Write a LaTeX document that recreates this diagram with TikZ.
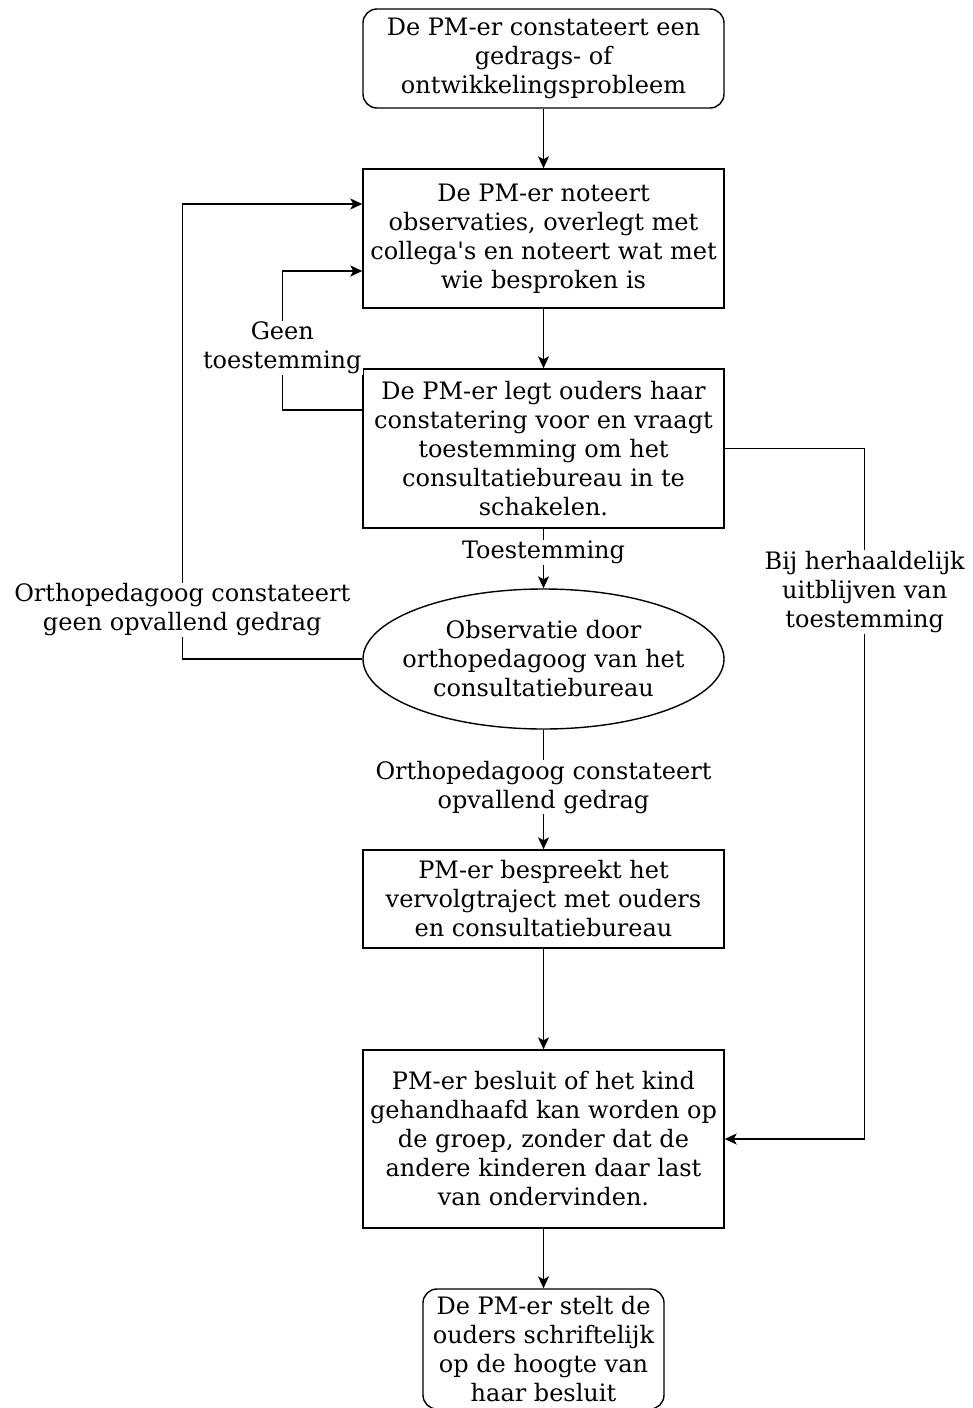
\documentclass[tikz,border=0pt]{standalone}
\usepackage{fontspec}
\setmainfont{DejaVu Serif}
\usetikzlibrary{arrows.meta,positioning,shapes.geometric}

\begin{document}
\begin{tikzpicture}[x=1pt,y=-1pt,
  >={Stealth[length=12pt,width=11pt,inset=3pt]},
  font=\fontsize{24}{29}\selectfont,
  stapbox/.style={draw=black,line width=1.4pt,minimum width=361pt,align=center,inner sep=0pt},
  eindbox/.style={stapbox,rounded corners=14pt},
  lbl/.style={fill=white,align=center,inner sep=1pt},
  pijl/.style={->,line width=1.4pt}]
\useasboundingbox (0,0) rectangle (972,1408);
% \draw[help lines] (0,0) grid[step=100] (972,1408);
\node (n1) [eindbox,minimum height=99pt] at (543.5,58.5) {De PM-er constateert een\\gedrags- of\\ontwikkelingsprobleem};
\node (n2) [stapbox,minimum height=139pt] at (543.5,238.5) {De PM-er noteert\\observaties, overlegt met\\collega\textquotesingle s en noteert wat met\\wie besproken is};
\node (n3) [stapbox,minimum height=159pt] at (543.5,448.5) {De PM-er legt ouders haar\\constatering voor en vraagt\\toestemming om het\\consultatiebureau in te\\schakelen.};
\node (obs) [stapbox,ellipse,inner xsep=-16pt,minimum height=140pt] at (543.5,659) {Observatie door\\orthopedagoog van het\\consultatiebureau};
\node (n5) [stapbox,minimum height=98pt] at (543.5,899) {PM-er bespreekt het\\vervolgtraject met ouders\\en consultatiebureau};
\node (n6) [stapbox,minimum height=178pt] at (543.5,1139) {PM-er besluit of het kind\\gehandhaafd kan worden op\\de groep, zonder dat de\\andere kinderen daar last\\van ondervinden.};
\node (n7) [eindbox,minimum width=241pt,minimum height=120pt] at (543.5,1349) {De PM-er stelt de\\ouders schriftelijk\\op de hoogte van\\haar besluit};
%
\path (n1) edge[pijl] (n2);
\path (n2) edge[pijl] (n3);
\path (n3) edge[pijl] node[lbl,pos=0.4] {Toestemming} (obs);
\path (obs) edge[pijl] node[lbl,pos=0.48] {Orthopedagoog constateert\\opvallend gedrag} (n5);
\path (n5) edge[pijl] (n6);
\path (n6) edge[pijl] (n7);

\draw[pijl] ([yshift=38.5pt]n3.west) -- ++(-80,0) |- node[lbl,pos=0.223] {Geen\\toestemming} ([yshift=-32.5pt]n2.west);
\draw[pijl] (obs.west) -- ++(-180,0) |- node[lbl,pos=0.054] {Orthopedagoog constateert\\geen opvallend gedrag} ([yshift=34.5pt]n2.west);
\draw[pijl] (n3.east) -- ++(140,0) |- node[lbl,pos=0.104] {Bij herhaaldelijk\\uitblijven van\\toestemming} (n6.east);
\end{tikzpicture}
\end{document}
